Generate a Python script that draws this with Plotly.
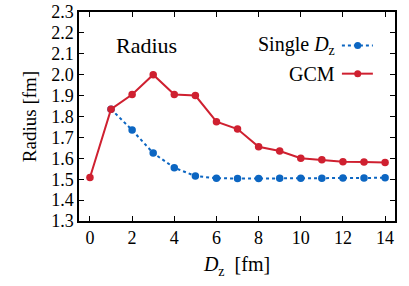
import plotly.graph_objects as go

dz_gcm = [0, 1, 2, 3, 4, 5, 6, 7, 8, 9, 10, 11, 12, 13, 14]
r_gcm = [1.508, 1.835, 1.905, 2.0, 1.905, 1.90, 1.775, 1.740, 1.655, 1.635, 1.600, 1.593, 1.583, 1.582, 1.580]
dz_single = [1, 2, 3, 4, 5, 6, 7, 8, 9, 10, 11, 12, 13, 14]
r_single = [1.835, 1.735, 1.625, 1.555, 1.515, 1.505, 1.503, 1.503, 1.504, 1.505, 1.505, 1.506, 1.506, 1.507]
legend_names = ["Single <i>D</i><sub>z</sub>", "GCM"]

RED = "#cf2030"
BLUE = "#0c66c2"
FONT = "Liberation Serif"
DASH = "3px,3px"

fig = go.Figure()
fig.add_trace(go.Scatter(x=dz_single, y=r_single, mode="lines+markers",
                         line=dict(color=BLUE, width=2, dash=DASH),
                         marker=dict(color=BLUE, size=7.5), showlegend=False))
fig.add_trace(go.Scatter(x=dz_gcm, y=r_gcm, mode="lines+markers",
                         line=dict(color=RED, width=2),
                         marker=dict(color=RED, size=7.5), showlegend=False))

# custom legend samples on an overlay axis (0..1 of plot area)
leg_y = [0.84, 0.705]
styles = [dict(color=BLUE, width=2, dash=DASH), dict(color=RED, width=2)]
colors = [BLUE, RED]
for i in range(2):
    fig.add_trace(go.Scatter(x=[0.832, 0.882, 0.93], y=[leg_y[i]] * 3, mode="lines",
                             line=styles[i], xaxis="x2", yaxis="y2", showlegend=False,
                             hoverinfo="skip"))
    fig.add_trace(go.Scatter(x=[0.882], y=[leg_y[i]], mode="markers",
                             marker=dict(color=colors[i], size=7), xaxis="x2", yaxis="y2",
                             showlegend=False, hoverinfo="skip"))
    fig.add_annotation(x=0.818, y=leg_y[i], xref="x2", yref="y2", text=legend_names[i],
                       showarrow=False, xanchor="right", yanchor="middle",
                       font=dict(family=FONT, size=20, color="black"))

fig.add_annotation(x=0.215, y=0.84, xref="x2", yref="y2", text="Radius",
                   showarrow=False, xanchor="center", yanchor="middle",
                   font=dict(family=FONT, size=22, color="black"))

axis_common = dict(showgrid=False, zeroline=False, showline=True, linecolor="black",
                   linewidth=1.5, mirror="ticks", ticks="inside", ticklen=5,
                   tickcolor="black", tickwidth=1, automargin=False,
                   tickfont=dict(family=FONT, size=18, color="black"))

fig.update_layout(
    width=409, height=286,
    margin=dict(l=79, r=14, t=12, b=65, autoexpand=False),
    paper_bgcolor="white", plot_bgcolor="white",
    xaxis=dict(range=[-0.52, 14.47], tickvals=list(range(0, 15, 2)),
               title=dict(text="<i>D</i><sub>z</sub>  [fm]", font=dict(family=FONT, size=20, color="black"),
                          standoff=10),
               **axis_common),
    yaxis=dict(range=[1.3, 2.3], tickvals=[1.3 + 0.1 * k for k in range(11)], tickformat=".1f",
               title=dict(text="Radius [fm]", font=dict(family=FONT, size=19, color="black"),
                          standoff=10),
               **axis_common),
    xaxis2=dict(range=[0, 1], overlaying="x", visible=False, fixedrange=True),
    yaxis2=dict(range=[0, 1], overlaying="y", visible=False, fixedrange=True),
)

fig.write_html("out.html", config={"displayModeBar": False},
               post_script="document.body.style.margin='0';document.body.style.padding='0';")
